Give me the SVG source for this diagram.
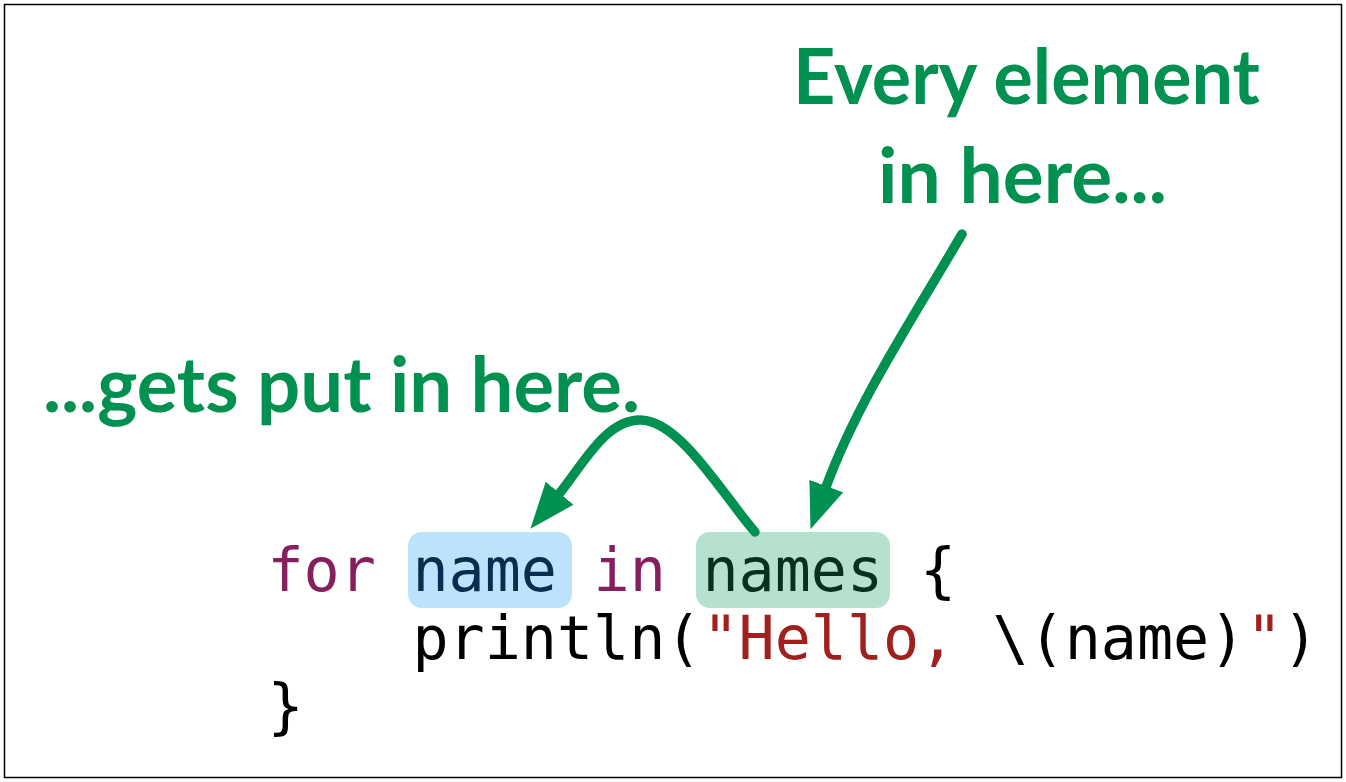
<svg xmlns="http://www.w3.org/2000/svg" width="1346" height="782" viewBox="0 0 1346 782">
<style>
.label{font-family:"Lato","Noto Sans","DejaVu Sans",sans-serif;font-weight:700;font-size:76px;fill:#00904F}
.code{font-family:"DejaVu Sans Mono","Liberation Mono",monospace;font-size:60px;fill:#000}
.kw{fill:#861F5E}
.str{fill:#A0201E}
.vname{fill:#0A2C4E}
.vnames{fill:#07311C}
.conn{fill:none;stroke:#00904F;stroke-width:9.5;stroke-linecap:round;marker-end:url(#ah)}
</style>
<defs>
<marker id="ah" markerUnits="userSpaceOnUse" markerWidth="46" markerHeight="36" viewBox="0 0 46 36" refX="1" refY="18" orient="auto">
<path d="M0,0 L46,18 L0,36 z" fill="#00904F"/>
</marker>
</defs>
<rect x="0" y="0" width="1346" height="782" fill="#fff"/>
<rect x="4.5" y="4.5" width="1337" height="773" fill="none" stroke="#000" stroke-width="1.5"/>

<g id="label-every">
<text class="label" x="793" y="104" textLength="467" lengthAdjust="spacingAndGlyphs">Every element</text>
<text class="label" x="878" y="203" textLength="289" lengthAdjust="spacingAndGlyphs">in here...</text>
</g>
<g id="label-gets">
<text class="label" x="43" y="412" textLength="597" lengthAdjust="spacingAndGlyphs">...gets put in here.</text>
</g>

<g id="node-name">
<rect x="408" y="532" width="164" height="76" rx="14" fill="#BDE2FC"/>
</g>
<g id="node-names">
<rect x="696" y="532" width="194" height="76" rx="14" fill="#B6E1CE"/>
</g>

<g id="code">
<text class="code" y="591"><tspan class="kw" x="267.4">for</tspan><tspan class="vname" x="412.4">name</tspan><tspan class="kw" x="593.6">in</tspan><tspan class="vnames" x="702.4">names</tspan><tspan x="919.9">{</tspan></text>
<text class="code" y="659"><tspan x="412.4">println(</tspan><tspan class="str" x="702.4">"Hello,</tspan><tspan x="992.4">\(name)</tspan><tspan class="str" x="1246.2">"</tspan><tspan x="1282.4">)</tspan></text>
<text class="code" x="267.4" y="727">}</text>
</g>

<g id="connectors">
<path class="conn" d="M962,234 C915,315 858,400 826,487"/>
<path class="conn" d="M755,532 C722,494 680,420 640,420 C605,420 582,466 559,494"/>
</g>
</svg>
